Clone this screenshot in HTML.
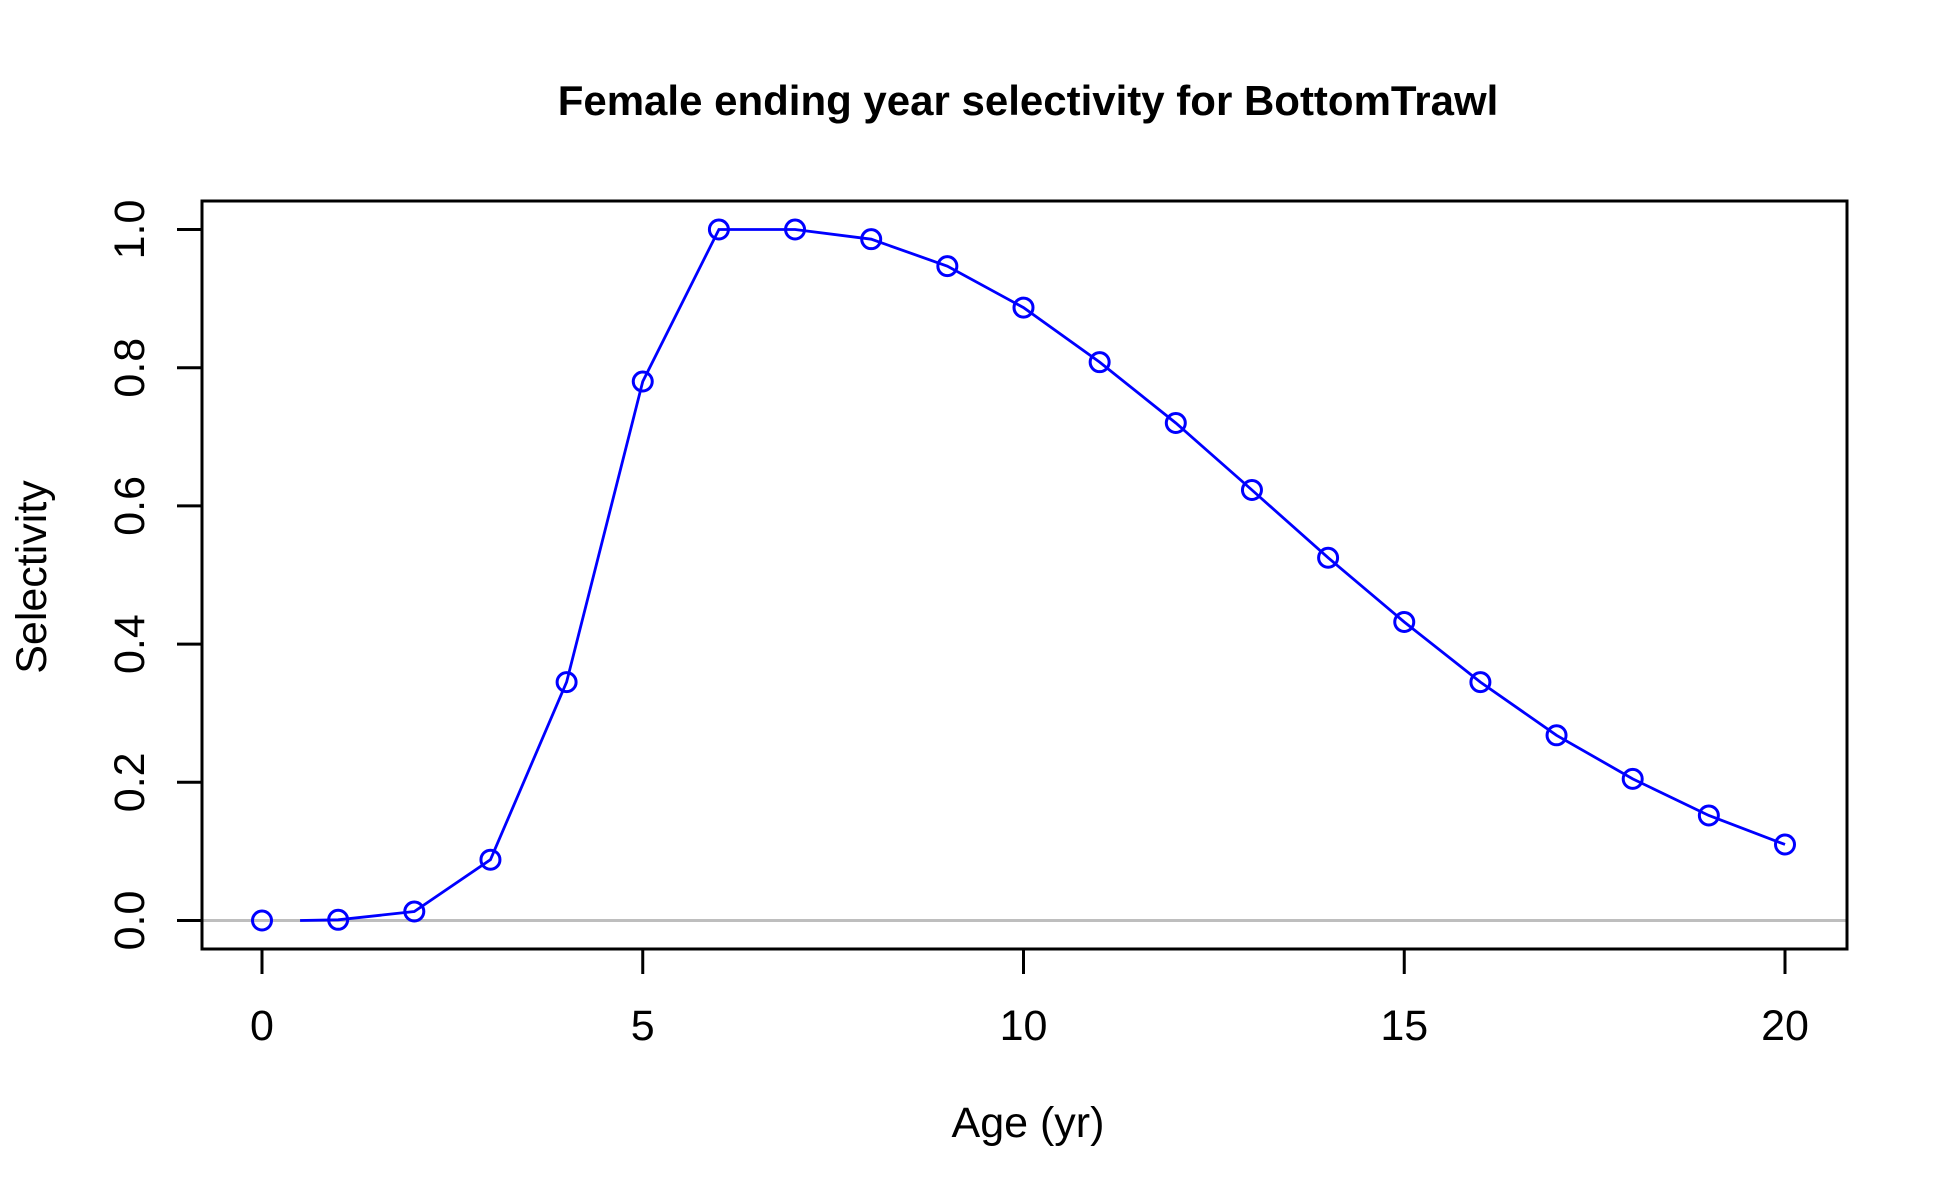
<!DOCTYPE html>
<html><head><meta charset="utf-8"><style>
html,body{margin:0;padding:0;background:#fff;}
svg{display:block;font-family:"Liberation Sans",Arial,sans-serif;}
</style></head><body>
<svg id="chart" width="1950" height="1200" viewBox="0 0 1950 1200">
<rect x="0" y="0" width="1950" height="1200" fill="#fff"/>
<text x="1028" y="115" text-anchor="middle" font-size="42" font-weight="bold">Female ending year selectivity for BottomTrawl</text>
<text x="1028" y="1137" text-anchor="middle" font-size="43">Age (yr)</text>
<text transform="translate(46,577) rotate(-90)" text-anchor="middle" font-size="43">Selectivity</text>
<g id="marks"></g>
<rect x="202" y="201" width="1645" height="748" fill="none" stroke="#000" stroke-width="3"/>
</svg>
<script>
const ages = [0,1,2,3,4,5,6,7,8,9,10,11,12,13,14,15,16,17,18,19,20];
const selectivity = [0,0.001,0.013,0.088,0.345,0.78,1,1,0.986,0.947,0.887,0.808,0.72,0.623,0.525,0.432,0.345,0.268,0.205,0.152,0.11];
const xTicks = [0,5,10,15,20];
const yTicks = [0,0.2,0.4,0.6,0.8,1];
const yTickLabels = ["0.0","0.2","0.4","0.6","0.8","1.0"];

const NS = "http://www.w3.org/2000/svg";
const sx = v => 262 + v * (1785 - 262) / 20;
const sy = v => 920.5 - v * 691;
const g = document.getElementById('marks');
function mk(tag, attrs){const e=document.createElementNS(NS,tag);for(const k in attrs)e.setAttribute(k,attrs[k]);g.appendChild(e);return e;}

const zl = mk('line',{x1:202,x2:1847,y1:sy(0),y2:sy(0),stroke:'#bebebe','stroke-width':3});



xTicks.forEach(t=>{
  const l = mk('line',{x1:sx(t),x2:sx(t),y1:949,y2:974,stroke:'#000','stroke-width':3});
  
  
  const tx = mk('text',{x:sx(t),y:1040,'text-anchor':'middle','font-size':43});
  tx.textContent = t;
  
  
});
yTicks.forEach((t,i)=>{
  const l = mk('line',{x1:177,x2:202,y1:sy(t),y2:sy(t),stroke:'#000','stroke-width':3});
  
  
  const tx = mk('text',{transform:`translate(144,${sy(t)}) rotate(-90)`,'text-anchor':'middle','font-size':43});
  tx.textContent = yTickLabels[i];
  
  
});

let d = `M${sx(0.5)},${sy(0)} ` + ages.slice(1).map((a,i)=>`L${sx(a)},${sy(selectivity[i+1])}`).join(' ');
const path = mk('path',{d:d,fill:'none',stroke:'#0000ff','stroke-width':2.8});



ages.forEach((a,i)=>{
  const c = mk('circle',{cx:sx(a),cy:sy(selectivity[i]),r:9.5,fill:'none',stroke:'#0000ff','stroke-width':3});
  
  
});
</script>
</body></html>
